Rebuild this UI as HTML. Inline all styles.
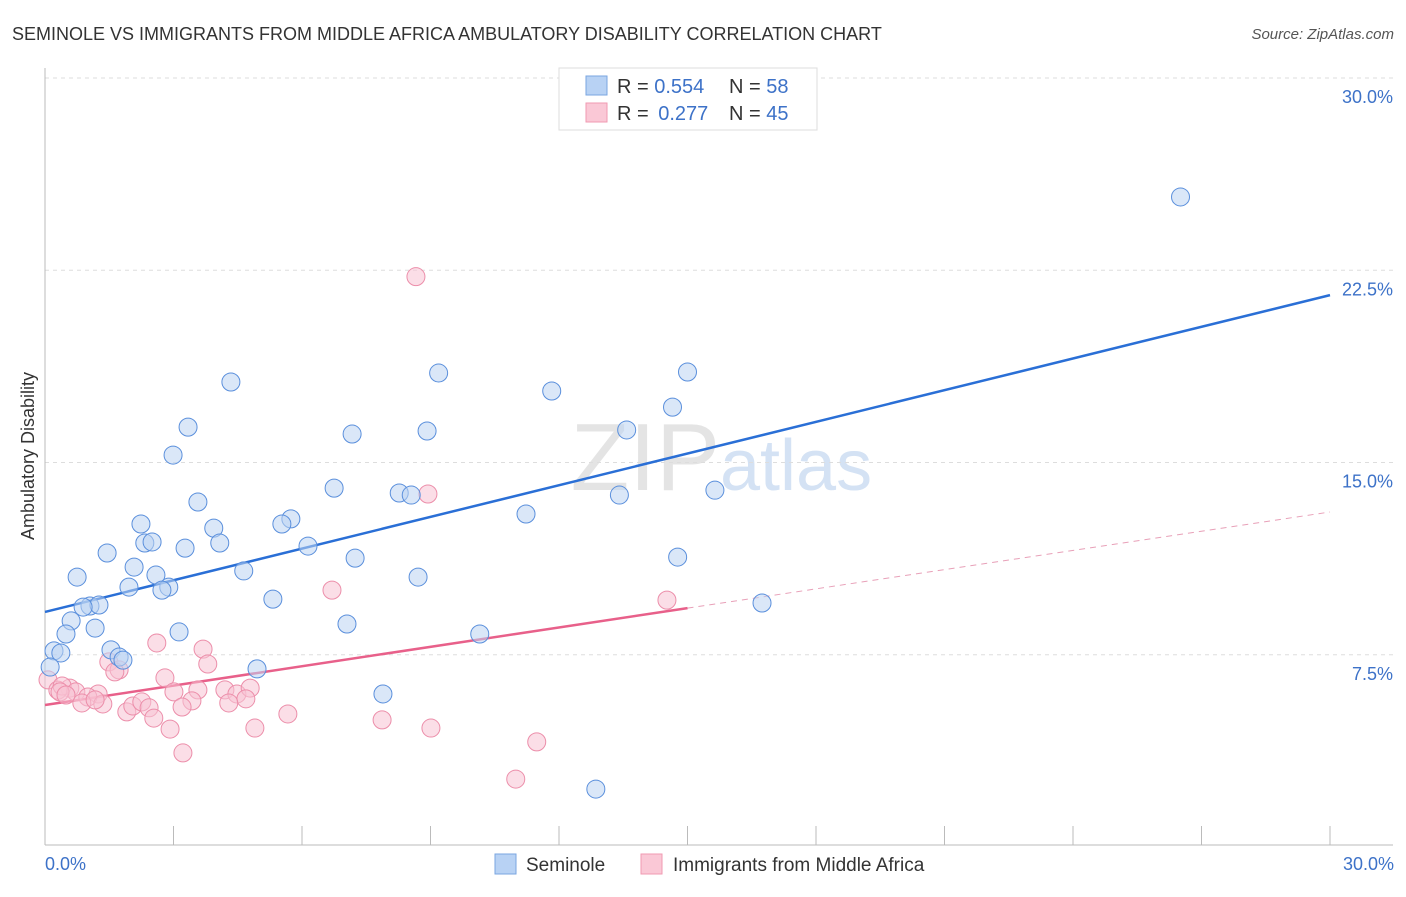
<!DOCTYPE html>
<html><head><meta charset="utf-8"><style>
body{margin:0;background:#fff;font-family:"Liberation Sans",sans-serif;}
svg text{font-family:"Liberation Sans",sans-serif;}
</style></head><body>
<svg id="chart" width="1406" height="892" xmlns="http://www.w3.org/2000/svg">
<text x="12" y="40" font-size="18" fill="#333">SEMINOLE VS IMMIGRANTS FROM MIDDLE AFRICA AMBULATORY DISABILITY CORRELATION CHART</text>
<text x="1394" y="39" font-size="15" fill="#555" font-style="italic" text-anchor="end">Source: ZipAtlas.com</text>
<text x="720" y="490" font-size="96" fill="#e4e4e4" text-anchor="end" font-family="Liberation Serif">ZIP</text>
<text x="720" y="490" font-size="72" fill="#d4e2f4">atlas</text>
<g id="grid"></g>
<g id="axes"></g>
<g id="lines"></g>
<g id="points"></g>
<text transform="translate(34,456) rotate(-90)" font-size="18" fill="#333" text-anchor="middle">Ambulatory Disability</text>
<text x="45" y="870" font-size="18" fill="#3d72c8">0.0%</text>
<text x="1394" y="870" font-size="18" fill="#3d72c8" text-anchor="end">30.0%</text>
<g>
<rect x="559" y="68" width="258" height="62" fill="#fff" stroke="#ddd"/>
<rect x="586" y="76" width="21" height="19" fill="#b8d2f4" stroke="#7aa6e0"/>
<rect x="586" y="103" width="21" height="19" fill="#fac8d6" stroke="#f09ab2"/>
<text x="617" y="93" font-size="20" fill="#333">R = <tspan fill="#3d72c8">0.554</tspan></text>
<text x="729" y="93" font-size="20" fill="#333">N = <tspan fill="#3d72c8">58</tspan></text>
<text x="617" y="120" font-size="20" fill="#333">R = <tspan fill="#3d72c8" dx="4">0.277</tspan></text>
<text x="729" y="120" font-size="20" fill="#333">N = <tspan fill="#3d72c8">45</tspan></text>
</g>
<g>
<rect x="495" y="854" width="21" height="20" fill="#b8d2f4" stroke="#7aa6e0"/>
<text x="526" y="871" font-size="19" fill="#333">Seminole</text>
<rect x="641" y="854" width="21" height="20" fill="#fac8d6" stroke="#f09ab2"/>
<text x="673" y="871" font-size="19" fill="#333">Immigrants from Middle Africa</text>
</g>
</svg>
<script>
const yTicks=[7.5,15,22.5,30];
const yTickLabels=["7.5%","15.0%","22.5%","30.0%"];
const seminoleX=[26.51,4.34,9.19,15.0,11.83,14.65,3.34,7.17,8.92,13.58,2.99,13.41,6.75,8.27,8.55,15.64,3.57,5.74,5.53,2.24,3.94,11.23,6.14,7.24,14.77,2.33,2.5,3.27,4.08,1.45,0.75,2.08,4.64,8.71,2.59,1.96,2.89,2.73,5.32,1.05,1.26,0.89,16.74,0.61,0.49,1.17,3.13,7.05,10.15,0.21,0.37,1.54,1.73,1.82,4.95,7.89,12.86,0.12];
const seminoleY=[25.36,18.14,18.49,18.53,17.79,17.16,16.38,16.11,16.23,16.27,15.29,13.73,14.0,13.81,13.73,13.92,13.46,12.8,12.6,12.6,12.44,12.99,11.74,11.27,11.31,11.86,11.9,11.66,11.86,11.47,10.53,10.92,10.77,10.53,10.61,10.14,10.14,10.02,9.67,9.4,9.44,9.36,9.52,8.82,8.31,8.54,8.39,8.7,8.31,7.65,7.57,7.69,7.41,7.29,6.95,5.97,2.26,7.02];
const immigrantsX=[8.66,8.94,6.7,14.52,2.61,3.69,3.8,1.49,1.73,2.8,1.63,0.07,0.58,0.3,0.4,0.72,1.24,1.0,0.86,1.35,1.91,2.05,2.26,2.43,2.54,3.01,3.57,3.43,3.2,4.2,4.48,4.79,4.69,4.29,2.92,3.22,4.9,5.67,7.87,9.01,11.48,10.99,0.35,0.49,1.17];
const immigrantsY=[22.25,13.77,10.02,9.63,7.96,7.72,7.14,7.22,6.91,6.6,6.83,6.52,6.2,6.12,6.28,6.05,5.97,5.85,5.62,5.58,5.27,5.5,5.66,5.43,5.03,6.05,6.13,5.7,5.46,6.13,5.97,6.2,5.78,5.62,4.6,3.67,4.64,5.19,4.96,4.64,4.1,2.65,6.05,5.93,5.74];
const seminoleTrend=[[0,9.17],[30,21.53]];
const immigrantsTrend=[[0,5.54],[15.0,9.32]];
const immigrantsTrendDash=[[15.0,9.32],[30,13.07]];
const NS="http://www.w3.org/2000/svg";
const X0=45,X1=1330,Y0=847,Y1=78;
function sx(v){return X0+(v/30)*(X1-X0);}
function sy(v){return Y0-(v/30)*(Y0-Y1);}
function mk(tag,attrs,parent){const e=document.createElementNS(NS,tag);for(const k in attrs)e.setAttribute(k,attrs[k]);parent.appendChild(e);return e;}
const grid=document.getElementById('grid'),axes=document.getElementById('axes'),lines=document.getElementById('lines'),pts=document.getElementById('points');
yTicks.forEach((t,i)=>{
 const l=mk('line',{x1:45,x2:1393,y1:sy(t),y2:sy(t),stroke:'#ddd','stroke-dasharray':'4,4'},grid);
 
 
 const tx=mk('text',{x:1393,y:sy(t)+25,'font-size':18,fill:'#3d72c8','text-anchor':'end'},grid);
 tx.textContent=yTickLabels[i];
 
 
});
const ya=mk('line',{x1:45,x2:45,y1:68,y2:845,stroke:'#bbb'},axes);


const xa=mk('line',{x1:45,x2:1393,y1:845,y2:845,stroke:'#bbb'},axes);


for(let i=0;i<=10;i++){
 const t=mk('line',{x1:sx(i*3),x2:sx(i*3),y1:826,y2:845,stroke:'#bbb'},axes);
 
 
}
function drawPts(xs,ys,fill,stroke,name){
 xs.forEach((x,i)=>{
  const c=mk('circle',{cx:sx(x),cy:sy(ys[i]),r:9,fill:fill,'fill-opacity':0.55,stroke:stroke,'stroke-width':1},pts);
  
  
 });
}
drawPts(immigrantsX,immigrantsY,'#f8c3d3','#ec8eaa','immigrants-point');
drawPts(seminoleX,seminoleY,'#bcd4f3','#5a8fdc','seminole-point');
function line(p,stroke,w,dash,name){
 const a={x1:sx(p[0][0]),y1:sy(p[0][1]),x2:sx(p[1][0]),y2:sy(p[1][1]),stroke:stroke,'stroke-width':w};
 if(dash)a['stroke-dasharray']=dash;
 const l=mk('line',a,lines);
 
 
}
line(seminoleTrend,'#2a6fd6',2.5,null,'seminole-trend-line');
line(immigrantsTrend,'#e8608a',2.5,null,'immigrants-trend-line');
line(immigrantsTrendDash,'#e8a0b8',1,'6,5','immigrants-trend-extension');
</script>
</body></html>
